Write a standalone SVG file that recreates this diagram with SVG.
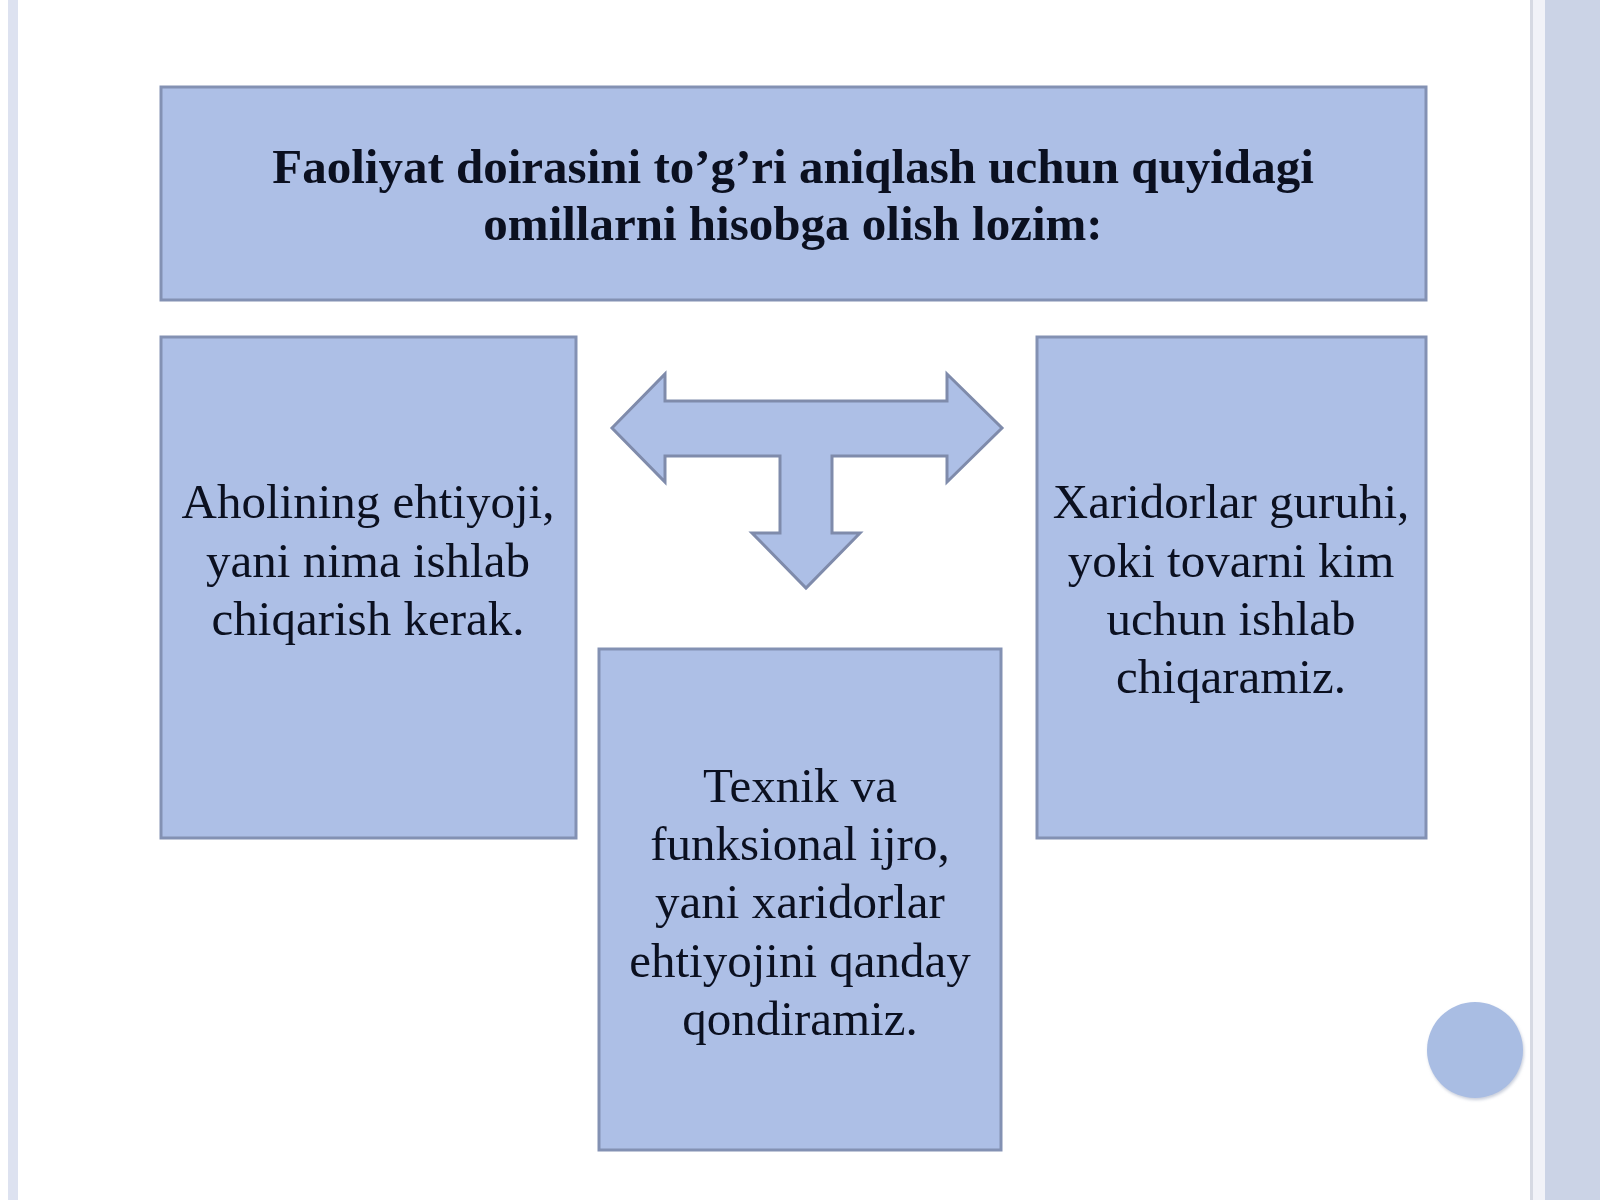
<svg xmlns="http://www.w3.org/2000/svg" width="1600" height="1200" viewBox="0 0 1600 1200">
  <defs>
    <style>
      .box { fill: #adbfe6; stroke: #8391b3; stroke-width: 3; }
      .t { font-family: "Liberation Serif", "Times New Roman", serif; font-size: 49px; fill: #0b1020; text-anchor: middle; }
      .b { font-weight: bold; }
    </style>
    <filter id="soft" x="-20%" y="-20%" width="140%" height="140%">
      <feGaussianBlur stdDeviation="1.5"/>
    </filter>
  </defs>
  <rect x="0" y="0" width="1600" height="1200" fill="#ffffff"/>
  <!-- decorative side strips -->
  <rect x="8" y="0" width="10" height="1200" fill="#dde2f0"/>
  <rect x="1530" y="0" width="3" height="1200" fill="#d6d9e3"/>
  <rect x="1533" y="0" width="12" height="1200" fill="#f1f2f8"/>
  <rect x="1545" y="0" width="55" height="1200" fill="#cbd3e6"/>

  <g id="node-title">
    <rect class="box" x="161" y="87" width="1265" height="213"/>
    <text class="t b" x="793" y="183">Faoliyat doirasini to’g’ri aniqlash uchun quyidagi</text>
    <text class="t b" x="793" y="240">omillarni hisobga olish lozim:</text>
  </g>

  <g id="node-left">
    <rect class="box" x="161" y="337" width="415" height="501"/>
    <text class="t" x="368" y="518">Aholining ehtiyoji,</text>
    <text class="t" x="368" y="577">yani nima ishlab</text>
    <text class="t" x="368" y="635">chiqarish kerak.</text>
  </g>

  <g id="node-right">
    <rect class="box" x="1037" y="337" width="389" height="501"/>
    <text class="t" x="1231" y="518">Xaridorlar guruhi,</text>
    <text class="t" x="1231" y="577">yoki tovarni kim</text>
    <text class="t" x="1231" y="635">uchun ishlab</text>
    <text class="t" x="1231" y="693">chiqaramiz.</text>
  </g>

  <g id="node-bottom">
    <rect class="box" x="599" y="649" width="402" height="501"/>
    <text class="t" x="800" y="802">Texnik va</text>
    <text class="t" x="800" y="860">funksional ijro,</text>
    <text class="t" x="800" y="918">yani xaridorlar</text>
    <text class="t" x="800" y="977">ehtiyojini qanday</text>
    <text class="t" x="800" y="1035">qondiramiz.</text>
  </g>

  <g id="connectors">
    <path d="M612,428 L665,374 L665,401 L947,401 L947,374 L1002,428 L947,482 L947,456 L832,456 L832,533 L860,533 L806,588 L752,533 L780,533 L780,456 L665,456 L665,482 Z" fill="#adbfe6" stroke="#7f8bab" stroke-width="3" stroke-linejoin="miter"/>
  </g>

  <g id="node-circle">
    <circle cx="1476" cy="1052" r="48" fill="#c9cfdc" filter="url(#soft)"/>
    <circle cx="1475" cy="1050" r="48" fill="#a9bde3"/>
  </g>
</svg>
